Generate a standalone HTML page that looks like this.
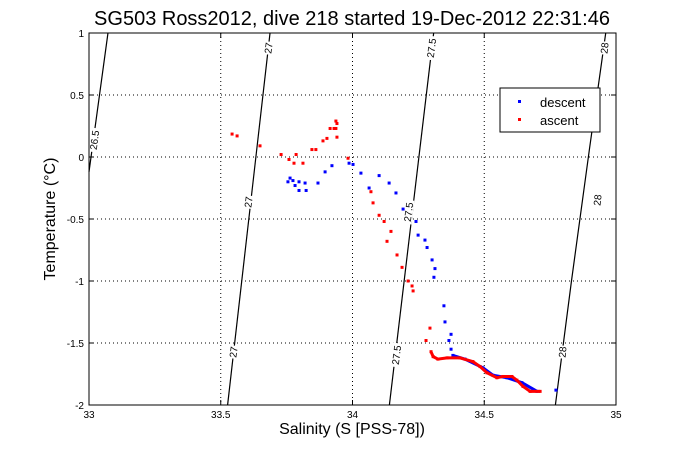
<!DOCTYPE html>
<html><head><meta charset="utf-8"><style>
body{margin:0;background:#fff;width:681px;height:454px;overflow:hidden}
text{font-family:"Liberation Sans",sans-serif}
</style></head><body>
<svg id="chart" width="681" height="454" xmlns="http://www.w3.org/2000/svg">
<rect width="681" height="454" fill="#fff"/>
<text x="352" y="25" font-size="20" text-anchor="middle">SG503 Ross2012, dive 218 started 19-Dec-2012 22:31:46</text>
<g id="grid"></g>
<g id="iso"></g>
<g id="marks"></g>
<rect x="89" y="33" width="527" height="372" fill="none" stroke="#000" stroke-width="1"/>
<g id="ticks"></g>
<text x="352" y="434" font-size="16" text-anchor="middle">Salinity (S [PSS-78])</text>
<text transform="translate(55,219) rotate(-90)" font-size="16" text-anchor="middle">Temperature (°C)</text>
<g>
<rect x="500" y="88" width="100" height="44" fill="#fff" stroke="#000" stroke-width="1"/>
<g><rect x="518" y="100" width="3" height="3" fill="#00f"/><text x="540" y="107" font-size="13">descent</text></g>
<g><rect x="518" y="118" width="3" height="3" fill="#f00"/><text x="540" y="125" font-size="13">ascent</text></g>
</g>
</svg>
<script>
const xTicks=[33,33.5,34,34.5,35];
const yTicks=[-2,-1.5,-1,-0.5,0,0.5,1];
const ascentS=[33.543,33.562,33.649,33.729,33.786,33.759,33.778,33.812,33.846,33.861,33.888,33.903,33.915,33.930,33.937,33.941,33.937,33.941,33.983,34.070,34.078,34.101,34.120,34.146,34.131,34.169,34.188,34.211,34.226,34.230,34.294,34.279,34.298,34.306,34.324,34.359,34.408,34.457,34.484,34.510,34.548,34.571,34.605,34.624,34.647,34.674,34.712];
const ascentT=[0.185,0.17,0.09,0.02,0.02,-0.02,-0.05,-0.05,0.06,0.06,0.13,0.15,0.23,0.23,0.23,0.27,0.29,0.16,-0.01,-0.28,-0.37,-0.47,-0.52,-0.60,-0.68,-0.79,-0.89,-1.00,-1.04,-1.08,-1.38,-1.48,-1.57,-1.61,-1.63,-1.62,-1.62,-1.65,-1.69,-1.74,-1.78,-1.77,-1.77,-1.80,-1.85,-1.89,-1.89];
const descentS=[33.763,33.755,33.774,33.782,33.797,33.797,33.820,33.824,33.869,33.896,33.922,33.987,34.002,34.032,34.063,34.101,34.139,34.165,34.192,34.241,34.249,34.275,34.283,34.302,34.313,34.309,34.347,34.351,34.374,34.366,34.374,34.381,34.427,34.495,34.533,34.586,34.643,34.700,34.772];
const descentT=[-0.17,-0.20,-0.19,-0.23,-0.27,-0.20,-0.21,-0.27,-0.21,-0.12,-0.07,-0.05,-0.06,-0.13,-0.25,-0.15,-0.21,-0.29,-0.42,-0.52,-0.63,-0.67,-0.73,-0.83,-0.90,-0.97,-1.20,-1.33,-1.43,-1.48,-1.55,-1.60,-1.63,-1.70,-1.76,-1.78,-1.82,-1.89,-1.88];
const isoNames=["26.5","27","27.5","28"];
const isoS=[[33.072,33.0],[33.687,33.526],[34.308,34.14],[34.961,34.899,34.831,34.77]];
const isoT=[[1,-0.12],[1,-2],[1,-2],[1,0.06,-1.0,-2]];
const X=s=>89+(s-33)*263.5, Y=t=>157-t*124;
const NS="http://www.w3.org/2000/svg";
function mk(tag,attrs,parent){const e=document.createElementNS(NS,tag);for(const k in attrs)e.setAttribute(k,attrs[k]);parent.appendChild(e);return e;}
const grid=document.getElementById('grid'),ticks=document.getElementById('ticks'),iso=document.getElementById('iso'),marks=document.getElementById('marks');
xTicks.forEach(v=>{
 if(v>33&&v<35){const l=mk('line',{x1:X(v),x2:X(v),y1:33,y2:405,stroke:'#000','stroke-dasharray':'1,3','stroke-width':1},grid);
 
 }
 mk('line',{x1:X(v),x2:X(v),y1:405,y2:400,stroke:'#000'},ticks);
 mk('line',{x1:X(v),x2:X(v),y1:33,y2:38,stroke:'#000'},ticks);
 const t=mk('text',{x:X(v),y:418,'font-size':10,'text-anchor':'middle'},ticks);t.textContent=String(v);
 
 
});
yTicks.forEach(v=>{
 if(v>-2&&v<1){const l=mk('line',{x1:89,x2:616,y1:Y(v),y2:Y(v),stroke:'#000','stroke-dasharray':'1,3','stroke-width':1},grid);
 
 }
 mk('line',{x1:89,x2:94,y1:Y(v),y2:Y(v),stroke:'#000'},ticks);
 mk('line',{x1:616,x2:611,y1:Y(v),y2:Y(v),stroke:'#000'},ticks);
 const t=mk('text',{x:84,y:Y(v)+4,'font-size':10,'text-anchor':'end'},ticks);t.textContent=String(v);
 
 
});
isoNames.forEach((n,i)=>{
 const pts=isoS[i].map((s,j)=>X(s)+','+Y(isoT[i][j])).join(' ');
 const p=mk('polyline',{points:pts,fill:'none',stroke:'#000','stroke-width':1.2},iso);
 
 
});
function lbl(txt,x,y,ang){const g=mk('g',{transform:`translate(${x},${y}) rotate(${ang})`},iso);
 
 
 const w=txt.length*5.5+2;mk('rect',{x:-w/2,y:-6,width:w,height:11,fill:'#fff'},g);
 const t=mk('text',{x:0,y:4,'font-size':10,'text-anchor':'middle'},g);t.textContent=txt;}
lbl('26.5',94,140,-82);lbl('27',268,48,-83);lbl('27',248,202,-83);lbl('27',233,352,-83);
lbl('27.5',431,48,-83);lbl('27.5',408,212,-83);lbl('27.5',396,355,-83);
lbl('28',604,48,-84);lbl('28',597,200,-84);lbl('28',562,352,-85);
function series(S,T,col,name){
 const tail=S.map((s,i)=>[s,T[i]]).filter(p=>Y(p[1])>350&&p[0]<34.75).map(p=>[X(p[0]),Y(p[1])]);
 const pl=mk('polyline',{points:tail.map(p=>p.join(',')).join(' '),fill:'none',stroke:col,'stroke-width':3},marks);
 
 
 S.forEach((s,i)=>{const r=mk('rect',{x:X(s)-1.5,y:Y(T[i])-1.5,width:3,height:3,fill:col},marks);
 
 });
}
series(descentS,descentT,'#00f','descent');
series(ascentS,ascentT,'#f00','ascent');
</script>
</body></html>
